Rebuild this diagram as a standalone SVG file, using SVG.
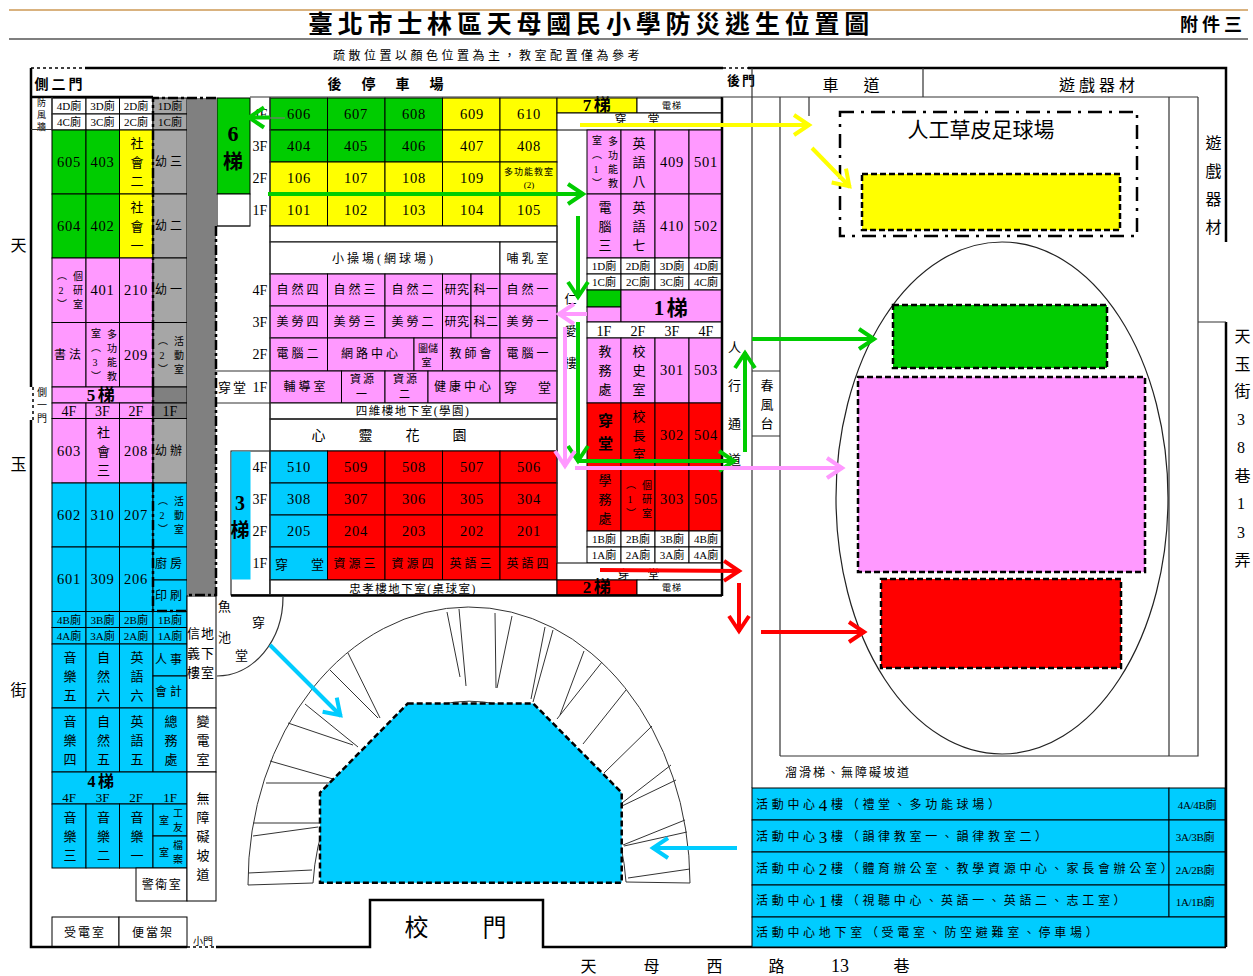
<svg xmlns="http://www.w3.org/2000/svg" width="1253" height="976" viewBox="0 0 1253 976">
<style>
text{font-family:"Liberation Serif","Noto Sans CJK TC",serif;fill:#000;text-anchor:middle;dominant-baseline:central;font-size:12px;letter-spacing:3px}
rect{stroke:#000;stroke-width:1}
.g{fill:#00cc00}.y{fill:#ffff00}.p{fill:#ff99ff}.r{fill:#ff0000}.b{fill:#00ccff}.w{fill:#fff}.a{fill:#a6a6a6}.d{fill:#808080}
text.n{font-size:14.500px;letter-spacing:.8px}
text.h{font-size:11px;letter-spacing:0}
text.f{font-size:14px;letter-spacing:0}
text.u{font-weight:bold;font-size:17px;letter-spacing:2.500px}
text.v{writing-mode:vertical-rl;text-orientation:upright;font-size:13px;letter-spacing:6px;transform:translateY(3px)}
text.vs{writing-mode:vertical-rl;text-orientation:upright;font-size:10px;letter-spacing:4px;transform:translateY(2px)}
text.l{text-anchor:start}
.thick{fill:none;stroke:#000;stroke-width:2.5}
.thin{fill:none;stroke:#333;stroke-width:1.2}
.dd{fill:none;stroke:#000;stroke-width:2.5;stroke-dasharray:10 3 3 3}
.dot{fill:none;stroke:#000;stroke-width:1.5;stroke-dasharray:3 3}
.zone{stroke:#000;stroke-width:2.5;stroke-dasharray:6 3}
.arc{fill:none;stroke:#333;stroke-width:1}
.arw{fill:none;stroke-width:4}
</style>
<defs>
<marker id="mg" markerUnits="userSpaceOnUse" markerWidth="22" markerHeight="26" viewBox="0 0 22 26" refX="19" refY="13" orient="auto"><path d="M3,3 L18,13 L3,23" fill="none" stroke="#00cc00" stroke-width="4"/></marker>
<marker id="my" markerUnits="userSpaceOnUse" markerWidth="22" markerHeight="26" viewBox="0 0 22 26" refX="19" refY="13" orient="auto"><path d="M3,3 L18,13 L3,23" fill="none" stroke="#ffff00" stroke-width="4"/></marker>
<marker id="mp" markerUnits="userSpaceOnUse" markerWidth="22" markerHeight="26" viewBox="0 0 22 26" refX="19" refY="13" orient="auto"><path d="M3,3 L18,13 L3,23" fill="none" stroke="#ff99ff" stroke-width="4"/></marker>
<marker id="mr" markerUnits="userSpaceOnUse" markerWidth="22" markerHeight="26" viewBox="0 0 22 26" refX="19" refY="13" orient="auto"><path d="M3,3 L18,13 L3,23" fill="none" stroke="#ff0000" stroke-width="4"/></marker>
<marker id="mb" markerUnits="userSpaceOnUse" markerWidth="22" markerHeight="26" viewBox="0 0 22 26" refX="19" refY="13" orient="auto"><path d="M3,3 L18,13 L3,23" fill="none" stroke="#00ccff" stroke-width="4"/></marker>
</defs>
<rect x="0" y="0" width="1253" height="976" style="fill:#fff;stroke:none"/>

<g id="header">
<path d="M9,10H1248" style="fill:none;stroke:#cc9955;stroke-width:1.5"/>
<path d="M9,39H1248" style="fill:none;stroke:#555;stroke-width:1.5"/>
<text x="591" y="24" style="font-size:25px;font-weight:bold;letter-spacing:4.800px">臺北市士林區天母國民小學防災逃生位置圖</text>
<text x="1213" y="25" style="font-size:18px;font-weight:bold;letter-spacing:4px">附件三</text>
<text x="488" y="56" style="font-size:12px;letter-spacing:3.500px">疏散位置以顏色位置為主，教室配置僅為參考</text>
</g>

<g id="labels">
<text x="60" y="84" style="font-size:14px;font-weight:bold;letter-spacing:3px">側二門</text>
<text x="336 370 404 438" y="84" style="font-size:14px;font-weight:bold">後停車場</text>
<text x="742" y="80" style="font-size:13px;font-weight:bold;letter-spacing:2px">後門</text>
<text x="832 873" y="85" style="font-size:16px">車道</text>
<text x="1099" y="85" style="font-size:16px;letter-spacing:4px">遊戲器材</text>
<text class="v" x="1212" y="188" style="font-size:16px;letter-spacing:12px">遊戲器材</text>
<text x="20" y="245" style="font-size:16px">天</text><text x="20" y="464" style="font-size:16px">玉</text><text x="20" y="690" style="font-size:16px">街</text>
<text class="v" x="1241" y="451" style="font-size:16px;letter-spacing:11.500px">天玉街38巷13弄</text>
<text x="590 653 716 778" y="966" style="font-size:16px">天母西路</text><text x="840" y="966" style="font-size:18px;letter-spacing:0">13</text><text x="903" y="966" style="font-size:16px">巷</text>
<text x="418 496" y="928" style="font-size:24px">校門</text>
<text x="981" y="130" style="font-size:21px;letter-spacing:0">人工草皮足球場</text>
<text class="v" x="41" y="404" style="font-size:10px;letter-spacing:3px">側一門</text>
<text x="203" y="941" style="font-size:10px;letter-spacing:0">小門</text>
<text x="226 260 226 243" y="606 622 637 655" style="font-size:13px">魚穿池堂</text>
<text x="320 367 414 461" y="435" style="font-size:14px">心靈花園</text>
<text class="v" x="41" y="113" style="font-size:9px;letter-spacing:3px">防風牆</text>
<text x="572" y="300" style="font-size:12px">仁</text><text x="572" y="332" style="font-size:12px">愛</text><text x="572" y="364" style="font-size:12px">樓</text>
<text x="736" y="347" style="font-size:13px">人</text><text x="736" y="385" style="font-size:13px">行</text><text x="736" y="423" style="font-size:13px">通</text><text x="736" y="459" style="font-size:13px">道</text>
<text x="785" y="773" class="l" style="font-size:12px;letter-spacing:2px">溜滑梯、無障礙坡道</text>
</g>

<g id="block-left">
<g id="c4D"><rect class="w" x="52" y="98" width="34" height="16"/><text class="h" x="69" y="106">4D廁</text></g>
<g id="c3D"><rect class="w" x="86" y="98" width="33.5" height="16"/><text class="h" x="102.500" y="106">3D廁</text></g>
<g id="c2D"><rect class="w" x="119.500" y="98" width="33.500" height="16"/><text class="h" x="136" y="106">2D廁</text></g>
<g id="c1D"><rect class="a" x="153" y="98" width="34" height="16"/><text class="h" x="170" y="106">1D廁</text></g>
<g id="c4C"><rect class="w" x="52" y="114" width="34" height="16"/><text class="h" x="69" y="122">4C廁</text></g>
<g id="c3C"><rect class="w" x="86" y="114" width="33.5" height="16"/><text class="h" x="102.500" y="122">3C廁</text></g>
<g id="c2C"><rect class="w" x="119.500" y="114" width="33.500" height="16"/><text class="h" x="136" y="122">2C廁</text></g>
<g id="c1C"><rect class="a" x="153" y="114" width="34" height="16"/><text class="h" x="170" y="122">1C廁</text></g>
<g id="c605"><rect class="g" x="52" y="130" width="34" height="64"/><text class="n" x="69" y="162">605</text></g>
<g id="c403"><rect class="g" x="86" y="130" width="33.500" height="64"/><text class="n" x="102.500" y="162">403</text></g>
<g id="cS2"><rect class="y" x="119.500" y="130" width="33.500" height="64"/><text class="v" x="136" y="162">社會二</text></g>
<g id="cK3"><rect class="a" x="153" y="130" width="34" height="64"/><text x="170" y="162">幼三</text></g>
<g id="c604"><rect class="g" x="52" y="194" width="34" height="64"/><text class="n" x="69" y="226">604</text></g>
<g id="c402"><rect class="g" x="86" y="194" width="33.500" height="64"/><text class="n" x="102.500" y="226">402</text></g>
<g id="cS1"><rect class="y" x="119.500" y="194" width="33.500" height="64"/><text class="v" x="136" y="226">社會一</text></g>
<g id="cK2"><rect class="a" x="153" y="194" width="34" height="64"/><text x="170" y="226">幼二</text></g>
<g id="cR2"><rect class="p" x="52" y="258" width="34" height="64.500"/><text class="vs" x="61" y="290">（2）</text><text class="vs" x="77" y="290">個研室</text></g>
<g id="c401"><rect class="p" x="86" y="258" width="33.500" height="64.500"/><text class="n" x="102.500" y="290">401</text></g>
<g id="c210"><rect class="p" x="119.500" y="258" width="33.500" height="64.500"/><text class="n" x="136" y="290">210</text></g>
<g id="cK1"><rect class="a" x="153" y="258" width="34" height="64.500"/><text x="170" y="290">幼一</text></g>
<g id="cCal"><rect class="p" x="52" y="322.500" width="34" height="64.500"/><text x="69" y="355">書法</text></g>
<g id="cM3"><rect class="p" x="86" y="322.500" width="33.500" height="64.500"/><text class="vs" x="95" y="355">室（3）</text><text class="vs" x="111" y="355">多功能教</text></g>
<g id="c209"><rect class="p" x="119.500" y="322.500" width="33.500" height="64.500"/><text class="n" x="136" y="355">209</text></g>
<g id="cAct2"><rect class="a" x="153" y="322.500" width="34" height="64.500"/><text class="vs" x="162" y="355">（2）</text><text class="vs" x="178" y="355">活動室</text></g>
<g id="s5"><rect class="p" x="52" y="387" width="101" height="16"/><rect class="d" x="153" y="387" width="34" height="16"/><text class="u" x="102" y="395">5梯</text></g>
<g id="r5"><rect class="p" x="52" y="403" width="34" height="15.500"/><text class="f" x="69" y="411">4F</text><rect class="p" x="86" y="403" width="33.500" height="15.500"/><text class="f" x="102.500" y="411">3F</text><rect class="p" x="119.500" y="403" width="33.500" height="15.500"/><text class="f" x="136" y="411">2F</text><rect class="d" x="153" y="403" width="34" height="15.500"/><text class="f" x="170" y="411">1F</text></g>
<g id="c603"><rect class="p" x="52" y="418.500" width="34" height="64.500"/><text class="n" x="69" y="451">603</text></g>
<g id="cS3"><rect class="p" x="86" y="418.500" width="33.500" height="64.500"/><text class="v" x="102.500" y="451">社會三</text></g>
<g id="c208"><rect class="p" x="119.500" y="418.500" width="33.500" height="64.500"/><text class="n" x="136" y="451">208</text></g>
<g id="cKO"><rect class="a" x="153" y="418.500" width="34" height="64.500"/><text x="170" y="451">幼辦</text></g>
<g id="c602"><rect class="b" x="52" y="483" width="34" height="64"/><text class="n" x="69" y="515">602</text></g>
<g id="c310"><rect class="b" x="86" y="483" width="33.500" height="64"/><text class="n" x="102.500" y="515">310</text></g>
<g id="c207"><rect class="b" x="119.500" y="483" width="33.500" height="64"/><text class="n" x="136" y="515">207</text></g>
<g id="cAct1"><rect class="b" x="153" y="483" width="34" height="64"/><text class="vs" x="162" y="515">（2）</text><text class="vs" x="178" y="515">活動室</text></g>
<g id="c601"><rect class="b" x="52" y="547" width="34" height="64.500"/><text class="n" x="69" y="579">601</text></g>
<g id="c309"><rect class="b" x="86" y="547" width="33.500" height="64.500"/><text class="n" x="102.500" y="579">309</text></g>
<g id="c206"><rect class="b" x="119.500" y="547" width="33.500" height="64.500"/><text class="n" x="136" y="579">206</text></g>
<g id="cKit"><rect class="b" x="153" y="547" width="34" height="33"/><text x="170" y="564">廚房</text></g>
<g id="cPrt"><rect class="b" x="153" y="580" width="34" height="31.500"/><text x="170" y="596">印刷</text></g>
<g id="c4B"><rect class="b" x="52" y="611.500" width="34" height="16"/><text class="h" x="69" y="620">4B廁</text></g>
<g id="c3B"><rect class="b" x="86" y="611.500" width="33.500" height="16"/><text class="h" x="102.500" y="620">3B廁</text></g>
<g id="c2B"><rect class="b" x="119.500" y="611.500" width="33.500" height="16"/><text class="h" x="136" y="620">2B廁</text></g>
<g id="c1B"><rect class="b" x="153" y="611.500" width="34" height="16"/><text class="h" x="170" y="620">1B廁</text></g>
<g id="c4A"><rect class="b" x="52" y="627.500" width="34" height="16.500"/><text class="h" x="69" y="636">4A廁</text></g>
<g id="c3A"><rect class="b" x="86" y="627.500" width="33.500" height="16.500"/><text class="h" x="102.500" y="636">3A廁</text></g>
<g id="c2A"><rect class="b" x="119.500" y="627.500" width="33.500" height="16.500"/><text class="h" x="136" y="636">2A廁</text></g>
<g id="c1A"><rect class="b" x="153" y="627.500" width="34" height="16.500"/><text class="h" x="170" y="636">1A廁</text></g>
<g id="cMu5"><rect class="b" x="52" y="644" width="34" height="64"/><text class="v" x="69" y="676">音樂五</text></g>
<g id="cNa6"><rect class="b" x="86" y="644" width="33.500" height="64"/><text class="v" x="102.500" y="676">自然六</text></g>
<g id="cEn6"><rect class="b" x="119.500" y="644" width="33.500" height="64"/><text class="v" x="136" y="676">英語六</text></g>
<g id="cHR"><rect class="b" x="153" y="644" width="34" height="32"/><text x="170" y="660">人事</text></g>
<g id="cAcc"><rect class="b" x="153" y="676" width="34" height="32"/><text x="170" y="692">會計</text></g>
<g id="cMu4"><rect class="b" x="52" y="708" width="34" height="64"/><text class="v" x="69" y="740">音樂四</text></g>
<g id="cNa5"><rect class="b" x="86" y="708" width="33.500" height="64"/><text class="v" x="102.500" y="740">自然五</text></g>
<g id="cEn5"><rect class="b" x="119.500" y="708" width="33.500" height="64"/><text class="v" x="136" y="740">英語五</text></g>
<g id="cGA"><rect class="b" x="153" y="708" width="34" height="64"/><text class="v" x="170" y="740">總務處</text></g>
<g id="s4"><rect class="b" x="52" y="772" width="135" height="32"/><text class="u" x="102" y="781" style="font-size:16px">4梯</text><text class="f" x="69" y="797" style="font-size:13px">4F</text><text class="f" x="102.500" y="797" style="font-size:13px">3F</text><text class="f" x="136" y="797" style="font-size:13px">2F</text><text class="f" x="170" y="797" style="font-size:13px">1F</text></g>
<g id="cMu3"><rect class="b" x="52" y="804" width="34" height="64"/><text class="v" x="69" y="836">音樂三</text></g>
<g id="cMu2"><rect class="b" x="86" y="804" width="33.500" height="64"/><text class="v" x="102.500" y="836">音樂二</text></g>
<g id="cMu1"><rect class="b" x="119.500" y="804" width="33.500" height="64"/><text class="v" x="136" y="836">音樂一</text></g>
<g id="cWk"><rect class="b" x="153" y="804" width="34" height="32"/><text class="vs" x="163" y="820">室</text><text class="vs" x="177" y="820">工友</text></g>
<g id="cAr"><rect class="b" x="153" y="836" width="34" height="32"/><text class="vs" x="163" y="852">室</text><text class="vs" x="177" y="852">檔案</text></g>
<g id="cGd"><rect class="w" x="136" y="868" width="51" height="33"/><text x="162" y="885" style="letter-spacing:1.500px">警衛室</text></g>
<g id="cBF"><rect class="w" x="187" y="596" width="29" height="112"/><text x="195 209" y="633" style="font-size:13px">信地</text><text x="195 209" y="653" style="font-size:13px">義下</text><text x="195 209" y="672" style="font-size:13px">樓室</text></g>
<g id="cPw"><rect class="w" x="187" y="708" width="29" height="64"/><text class="v" x="202" y="740">變電室</text></g>
<g id="cRamp"><rect class="w" x="187" y="772" width="29" height="129"/><text class="v" x="202" y="836">無障礙坡道</text></g>
<g id="cSub"><rect class="w" x="52" y="917" width="67" height="30"/><text x="85" y="933" style="letter-spacing:2px">受電室</text></g>
<g id="cLun"><rect class="w" x="119" y="917" width="68" height="30"/><text x="153" y="933" style="letter-spacing:2px">便當架</text></g>
</g>

<g id="band"><rect class="d" x="187" y="98" width="29" height="497" style="stroke:none"/></g>

<g id="stair6"><rect class="g" x="217" y="98" width="33" height="96"/><text class="u" x="233" y="133" style="font-size:22px;letter-spacing:0">6</text><text class="u" x="233" y="162" style="font-size:20px;letter-spacing:0">梯</text><rect class="w" x="217" y="194" width="33" height="32"/></g>

<g id="block-north">
<g id="c606"><rect class="g" x="270" y="98" width="57.500" height="32"/><text class="n" x="299" y="114">606</text></g>
<g id="c607"><rect class="g" x="327.500" y="98" width="57.500" height="32"/><text class="n" x="356" y="114">607</text></g>
<g id="c608"><rect class="g" x="385" y="98" width="57.500" height="32"/><text class="n" x="414" y="114">608</text></g>
<g id="c609"><rect class="y" x="442.500" y="98" width="57.500" height="32"/><text class="n" x="472" y="114">609</text></g>
<g id="c610"><rect class="y" x="500" y="98" width="57" height="32"/><text class="n" x="529" y="114">610</text></g>
<g id="c404"><rect class="g" x="270" y="130" width="57.500" height="32"/><text class="n" x="299" y="146">404</text></g>
<g id="c405"><rect class="g" x="327.500" y="130" width="57.500" height="32"/><text class="n" x="356" y="146">405</text></g>
<g id="c406"><rect class="g" x="385" y="130" width="57.500" height="32"/><text class="n" x="414" y="146">406</text></g>
<g id="c407"><rect class="y" x="442.500" y="130" width="57.500" height="32"/><text class="n" x="472" y="146">407</text></g>
<g id="c408"><rect class="y" x="500" y="130" width="57" height="32"/><text class="n" x="529" y="146">408</text></g>
<g id="c106"><rect class="y" x="270" y="162" width="57.500" height="32"/><text class="n" x="299" y="178">106</text></g>
<g id="c107"><rect class="y" x="327.500" y="162" width="57.500" height="32"/><text class="n" x="356" y="178">107</text></g>
<g id="c108"><rect class="y" x="385" y="162" width="57.500" height="32"/><text class="n" x="414" y="178">108</text></g>
<g id="c109"><rect class="y" x="442.500" y="162" width="57.500" height="32"/><text class="n" x="472" y="178">109</text></g>
<g id="cM2"><rect class="y" x="500" y="162" width="57" height="32"/><text x="529" y="172" style="font-size:9px;letter-spacing:1px">多功能教室</text><text x="529" y="185" style="font-size:9px;letter-spacing:0">(2)</text></g>
<g id="c101"><rect class="y" x="270" y="194" width="57.500" height="32"/><text class="n" x="299" y="210">101</text></g>
<g id="c102"><rect class="y" x="327.500" y="194" width="57.500" height="32"/><text class="n" x="356" y="210">102</text></g>
<g id="c103"><rect class="y" x="385" y="194" width="57.500" height="32"/><text class="n" x="414" y="210">103</text></g>
<g id="c104"><rect class="y" x="442.500" y="194" width="57.500" height="32"/><text class="n" x="472" y="210">104</text></g>
<g id="c105"><rect class="y" x="500" y="194" width="57" height="32"/><text class="n" x="529" y="210">105</text></g>
<g id="cGap"><rect class="w" x="270" y="226" width="287" height="16"/></g>
<g id="cCourt"><rect class="w" x="270" y="242" width="230" height="32"/><text x="384" y="259">小操場(網球場)</text></g>
<g id="cNurse"><rect class="w" x="500" y="242" width="57" height="32"/><text x="529" y="259">哺乳室</text></g>
<g id="cN4"><rect class="p" x="270" y="274" width="57.500" height="32"/><text x="299" y="290">自然四</text></g>
<g id="cN3"><rect class="p" x="327.500" y="274" width="57.500" height="32"/><text x="356" y="290">自然三</text></g>
<g id="cN2"><rect class="p" x="385" y="274" width="57.500" height="32"/><text x="414" y="290">自然二</text></g>
<g id="cL1"><rect class="p" x="442.500" y="274" width="28.500" height="32"/><text x="457" y="290" style="letter-spacing:.5px">研究</text></g>
<g id="cL1b"><rect class="p" x="471" y="274" width="29" height="32"/><text x="486" y="290" style="letter-spacing:.5px">科一</text></g>
<g id="cN1"><rect class="p" x="500" y="274" width="57" height="32"/><text x="529" y="290">自然一</text></g>
<g id="cA4"><rect class="p" x="270" y="306" width="57.500" height="32"/><text x="299" y="322">美勞四</text></g>
<g id="cA3"><rect class="p" x="327.500" y="306" width="57.500" height="32"/><text x="356" y="322">美勞三</text></g>
<g id="cA2"><rect class="p" x="385" y="306" width="57.500" height="32"/><text x="414" y="322">美勞二</text></g>
<g id="cL2"><rect class="p" x="442.500" y="306" width="28.500" height="32"/><text x="457" y="322" style="letter-spacing:.5px">研究</text></g>
<g id="cL2b"><rect class="p" x="471" y="306" width="29" height="32"/><text x="486" y="322" style="letter-spacing:.5px">科二</text></g>
<g id="cA1"><rect class="p" x="500" y="306" width="57" height="32"/><text x="529" y="322">美勞一</text></g>
<g id="cC2"><rect class="p" x="270" y="338" width="57.500" height="33"/><text x="299" y="354">電腦二</text></g>
<g id="cNet"><rect class="p" x="327.500" y="338" width="86.500" height="33"/><text x="371" y="354">網路中心</text></g>
<g id="cSt"><rect class="p" x="414" y="338" width="28.500" height="33"/><text x="428" y="348" style="font-size:10px;letter-spacing:0">圖儲</text><text x="428" y="362" style="font-size:10px">室</text></g>
<g id="cTe"><rect class="p" x="442.500" y="338" width="57.500" height="33"/><text x="472" y="354">教師會</text></g>
<g id="cC1"><rect class="p" x="500" y="338" width="57" height="33"/><text x="529" y="354">電腦一</text></g>
<g id="cCo"><rect class="p" x="270" y="371" width="71.500" height="32"/><text x="306" y="387">輔導室</text></g>
<g id="cRes1"><rect class="p" x="341.500" y="371" width="43.500" height="32"/><text x="363" y="379" style="font-size:11px;letter-spacing:2px">資源</text><text x="363" y="394" style="font-size:11px">一</text></g>
<g id="cRes2"><rect class="p" x="385" y="371" width="43" height="32"/><text x="406" y="379" style="font-size:11px;letter-spacing:2px">資源</text><text x="406" y="394" style="font-size:11px">二</text></g>
<g id="cHe"><rect class="p" x="428" y="371" width="72" height="32"/><text x="464" y="387">健康中心</text></g>
<g id="cCh1"><rect class="p" x="500" y="371" width="57" height="32"/><text x="512 546" y="387" style="font-size:13px">穿堂</text></g>
<g id="cB4"><rect class="w" x="270" y="403" width="287" height="16"/><text x="413" y="411" style="font-size:11.500px;letter-spacing:1.500px">四維樓地下室(學園)</text></g>
<g id="cGar"><rect class="w" x="270" y="419" width="287" height="32" style="fill:none"/></g>
</g>

<g id="block-south">
<g id="s3"><rect class="w" x="231" y="451" width="39" height="144"/><rect class="b" x="231.500" y="451.500" width="19" height="128" style="stroke:none"/><text class="u" x="240" y="503" style="font-size:20px;letter-spacing:0">3</text><text class="u" x="240" y="530" style="font-size:19px;letter-spacing:0">梯</text></g>
<g id="c510"><rect class="b" x="270" y="451" width="57.500" height="32"/><text class="n" x="299" y="467">510</text></g>
<g id="c509"><rect class="r" x="327.500" y="451" width="57.500" height="32"/><text class="n" x="356" y="467">509</text></g>
<g id="c508"><rect class="r" x="385" y="451" width="57.500" height="32"/><text class="n" x="414" y="467">508</text></g>
<g id="c507"><rect class="r" x="442.500" y="451" width="57.500" height="32"/><text class="n" x="472" y="467">507</text></g>
<g id="c506"><rect class="r" x="500" y="451" width="57" height="32"/><text class="n" x="529" y="467">506</text></g>
<g id="c308"><rect class="b" x="270" y="483" width="57.500" height="32"/><text class="n" x="299" y="499">308</text></g>
<g id="c307"><rect class="r" x="327.500" y="483" width="57.500" height="32"/><text class="n" x="356" y="499">307</text></g>
<g id="c306"><rect class="r" x="385" y="483" width="57.500" height="32"/><text class="n" x="414" y="499">306</text></g>
<g id="c305"><rect class="r" x="442.500" y="483" width="57.500" height="32"/><text class="n" x="472" y="499">305</text></g>
<g id="c304"><rect class="r" x="500" y="483" width="57" height="32"/><text class="n" x="529" y="499">304</text></g>
<g id="c205"><rect class="b" x="270" y="515" width="57.500" height="32"/><text class="n" x="299" y="531">205</text></g>
<g id="c204"><rect class="r" x="327.500" y="515" width="57.500" height="32"/><text class="n" x="356" y="531">204</text></g>
<g id="c203"><rect class="r" x="385" y="515" width="57.500" height="32"/><text class="n" x="414" y="531">203</text></g>
<g id="c202"><rect class="r" x="442.500" y="515" width="57.500" height="32"/><text class="n" x="472" y="531">202</text></g>
<g id="c201"><rect class="r" x="500" y="515" width="57" height="32"/><text class="n" x="529" y="531">201</text></g>
<g id="cCh3"><rect class="b" x="270" y="547" width="57.500" height="33"/><text x="283 319" y="564" style="font-size:13px">穿堂</text></g>
<g id="cRe3"><rect class="r" x="327.500" y="547" width="57.500" height="33"/><text x="356" y="564">資源三</text></g>
<g id="cRe4"><rect class="r" x="385" y="547" width="57.500" height="33"/><text x="414" y="564">資源四</text></g>
<g id="cE3"><rect class="r" x="442.500" y="547" width="57.500" height="33"/><text x="472" y="564">英語三</text></g>
<g id="cE4"><rect class="r" x="500" y="547" width="57" height="33"/><text x="529" y="564">英語四</text></g>
<g id="cB3"><rect class="w" x="270" y="580" width="287" height="15"/><text x="413" y="589" style="font-size:11.500px;letter-spacing:1.500px">忠孝樓地下室(桌球室)</text></g>
</g>

<g id="block-east">
<g id="s7"><rect class="y" x="557" y="98" width="80" height="15"/><text class="u" x="598" y="105">7梯</text><rect class="w" x="637" y="98" width="85" height="15"/><text x="672" y="106" style="font-size:9px;letter-spacing:1px">電梯</text></g>
<g id="cCh7"><rect class="w" x="557" y="113" width="165" height="17"/><text x="622 655" y="120" style="font-size:12px">穿堂</text></g>
<g id="cM1"><rect class="p" x="587" y="130" width="34" height="64"/><text class="vs" x="596" y="162">室（1）</text><text class="vs" x="612" y="162">多功能教</text></g>
<g id="cE8"><rect class="p" x="621" y="130" width="34" height="64"/><text class="v" x="638" y="162">英語八</text></g>
<g id="c409"><rect class="p" x="655" y="130" width="34" height="64"/><text class="n" x="672" y="162">409</text></g>
<g id="c501"><rect class="p" x="689" y="130" width="33" height="64"/><text class="n" x="706" y="162">501</text></g>
<g id="cC3"><rect class="p" x="587" y="194" width="34" height="64"/><text class="v" x="604" y="226">電腦三</text></g>
<g id="cE7"><rect class="p" x="621" y="194" width="34" height="64"/><text class="v" x="638" y="226">英語七</text></g>
<g id="c410"><rect class="p" x="655" y="194" width="34" height="64"/><text class="n" x="672" y="226">410</text></g>
<g id="c502"><rect class="p" x="689" y="194" width="33" height="64"/><text class="n" x="706" y="226">502</text></g>
<g id="e1D"><rect class="w" x="587" y="258" width="34" height="16"/><text class="h" x="604" y="266">1D廁</text></g>
<g id="e2D"><rect class="w" x="621" y="258" width="34" height="16"/><text class="h" x="638" y="266">2D廁</text></g>
<g id="e3D"><rect class="w" x="655" y="258" width="34" height="16"/><text class="h" x="672" y="266">3D廁</text></g>
<g id="e4D"><rect class="w" x="689" y="258" width="33" height="16"/><text class="h" x="706" y="266">4D廁</text></g>
<g id="e1C"><rect class="w" x="587" y="274" width="34" height="16"/><text class="h" x="604" y="282">1C廁</text></g>
<g id="e2C"><rect class="w" x="621" y="274" width="34" height="16"/><text class="h" x="638" y="282">2C廁</text></g>
<g id="e3C"><rect class="w" x="655" y="274" width="34" height="16"/><text class="h" x="672" y="282">3C廁</text></g>
<g id="e4C"><rect class="w" x="689" y="274" width="33" height="16"/><text class="h" x="706" y="282">4C廁</text></g>
<g id="s1"><rect class="g" x="587" y="290" width="34" height="17"/><rect class="p" x="587" y="307" width="34" height="15"/><rect class="p" x="621" y="290" width="101" height="32"/><text class="u" x="672" y="308" style="font-size:21px">1梯</text></g>
<g id="r1"><rect class="w" x="587" y="322" width="135" height="16"/><text class="f" x="604" y="331">1F</text><text class="f" x="638" y="331">2F</text><text class="f" x="672" y="331">3F</text><text class="f" x="706" y="331">4F</text></g>
<g id="cDe"><rect class="p" x="587" y="338" width="34" height="65"/><text class="v" x="604" y="370">教務處</text></g>
<g id="cHi"><rect class="p" x="621" y="338" width="34" height="65"/><text class="v" x="638" y="370">校史室</text></g>
<g id="c301"><rect class="p" x="655" y="338" width="34" height="65"/><text class="n" x="672" y="370">301</text></g>
<g id="c503"><rect class="p" x="689" y="338" width="33" height="65"/><text class="n" x="706" y="370">503</text></g>
<g id="cCh2"><rect class="r" x="587" y="403" width="34" height="64"/><text class="v" x="604" y="433" style="font-size:15px;font-weight:bold;letter-spacing:8px">穿堂</text></g>
<g id="cPr"><rect class="r" x="621" y="403" width="34" height="64"/><text class="v" x="638" y="435">校長室</text></g>
<g id="c302"><rect class="r" x="655" y="403" width="34" height="64"/><text class="n" x="672" y="435">302</text></g>
<g id="c504"><rect class="r" x="689" y="403" width="33" height="64"/><text class="n" x="706" y="435">504</text></g>
<g id="cSa"><rect class="r" x="587" y="467" width="34" height="64"/><text class="v" x="604" y="499">學務處</text></g>
<g id="cR1"><rect class="r" x="621" y="467" width="34" height="64"/><text class="vs" x="630" y="499">（1）</text><text class="vs" x="646" y="499">個研室</text></g>
<g id="c303"><rect class="r" x="655" y="467" width="34" height="64"/><text class="n" x="672" y="499">303</text></g>
<g id="c505"><rect class="r" x="689" y="467" width="33" height="64"/><text class="n" x="706" y="499">505</text></g>
<g id="e1B"><rect class="w" x="587" y="531" width="34" height="16"/><text class="h" x="604" y="539">1B廁</text></g>
<g id="e2B"><rect class="w" x="621" y="531" width="34" height="16"/><text class="h" x="638" y="539">2B廁</text></g>
<g id="e3B"><rect class="w" x="655" y="531" width="34" height="16"/><text class="h" x="672" y="539">3B廁</text></g>
<g id="e4B"><rect class="w" x="689" y="531" width="33" height="16"/><text class="h" x="706" y="539">4B廁</text></g>
<g id="e1A"><rect class="w" x="587" y="547" width="34" height="16"/><text class="h" x="604" y="555">1A廁</text></g>
<g id="e2A"><rect class="w" x="621" y="547" width="34" height="16"/><text class="h" x="638" y="555">2A廁</text></g>
<g id="e3A"><rect class="w" x="655" y="547" width="34" height="16"/><text class="h" x="672" y="555">3A廁</text></g>
<g id="e4A"><rect class="w" x="689" y="547" width="33" height="16"/><text class="h" x="706" y="555">4A廁</text></g>
<g id="cCh8"><rect class="w" x="557" y="563" width="165" height="17"/><text x="625 655" y="575" style="font-size:12px">穿堂</text></g>
<g id="s2"><rect class="r" x="557" y="580" width="80" height="15"/><text class="u" x="598" y="587">2梯</text><rect class="w" x="637" y="580" width="85" height="15"/><text x="672" y="588" style="font-size:9px;letter-spacing:1px">電梯</text></g>
</g>

<g id="floor-labels">
<text class="f" x="260" y="114">4F</text><text class="f" x="260" y="146">3F</text><text class="f" x="260" y="178">2F</text><text class="f" x="260" y="210">1F</text>
<text class="f" x="260" y="290">4F</text><text class="f" x="260" y="322">3F</text><text class="f" x="260" y="354">2F</text><text class="f" x="260" y="387">1F</text>
<text x="233" y="387" style="font-size:13px;letter-spacing:2px">穿堂</text>
<text class="f" x="260" y="467">4F</text><text class="f" x="260" y="499">3F</text><text class="f" x="260" y="531">2F</text><text class="f" x="260" y="563">1F</text>
</g>

<g id="frame">
<path class="thick" d="M31,387V68"/><path class="dot" d="M31,68H85"/><path class="thick" d="M85,68H723"/><path class="dot" d="M723,68H748"/><path class="thick" d="M748,68H1226V242M1226,322V947"/>
<path class="dot" d="M33,387V420" /><path class="thick" d="M31,420V947H187"/><path class="dot" d="M187,947H216"/><path class="thick" d="M216,947H370V900H543V947H1226"/>
<path class="thick" d="M31,97H153"/><path class="thin" d="M250,97H722"/><path class="thin" d="M31,129.500H52M52,97V130"/>
<path class="thick" d="M722,97V596M231,595.500H722"/>
<path class="thin" d="M216,371H270M216,403H270M270,97V595M557,226V563M217,226H250"/>
<path class="thin" d="M923,68V97M722,97H1198M809,97V116M752,68V788M780,97V756M1169,97V756M1198,97V756H780M1198,322H1226M752,371H780M752,436H780"/>
<path class="dd" d="M153,387V98H216"/><path class="dd" d="M153,387V611H187"/><path class="dd" d="M216,226V595H187"/>
</g>

<g id="spring-stage"><text class="v" x="766" y="404">春風台</text></g>

<g id="amphitheatre">
<path class="arc" d="M248,885A221,277 0 0 1 690,883L626,882A157,197 0 0 0 313,883Z"/>
<path class="arc" d="M447,612L460,677M459,609L466,686M495,613L496,688M512,616L497,688M545,627L531,699M553,630L533,702M584,651L560,715M602,662L557,719M626,690L583,744M652,726L604,773M671,765L622,803M676,780L622,806M685,820L623,845M687,832L624,846M690,869L628,878M348,653L380,718M330,670L378,718M305,704L358,747M288,723L353,745M270,761L333,779M266,783L330,783M253,823L320,823M253,836L318,827M248,873L312,870"/>
</g>

<g id="pool">
<path d="M407.700,703.500H533.300L621.700,792.700V882.700H320V792.700Z" class="b zone"/>
<path d="M283,597A66,79 0 0 1 217,676" class="arc" style="stroke-width:1.200"/>
</g>

<g id="field">
<ellipse cx="1002" cy="498" rx="166" ry="256" style="fill:none;stroke:#222;stroke-width:1.200"/>
<rect x="840" y="112" width="297" height="124" style="fill:none;stroke-width:2.500;stroke-dasharray:14 7 3 7"/>
<rect id="zone-yellow" class="y zone" x="862" y="174" width="258" height="56"/>
<rect id="zone-green" class="g zone" x="893" y="305" width="214" height="63"/>
<rect id="zone-pink" class="p zone" x="858" y="377" width="287" height="195"/>
<rect id="zone-red" class="r zone" x="881" y="579" width="240" height="89"/>
</g>

<g id="activity-table">
<g id="t4"><rect class="b" x="752" y="788" width="417" height="32"/><text class="l" x="756" y="805" style="letter-spacing:3.700px">活動中心<tspan style="font-size:17px">4</tspan>樓（禮堂、多功能球場）</text><rect class="b" x="1169" y="788" width="56" height="32"/><text class="h" x="1197" y="805" style="letter-spacing:-.3px">4A/4B廁</text></g>
<g id="t3"><rect class="b" x="752" y="820" width="417" height="32"/><text class="l" x="756" y="837" style="letter-spacing:3.700px">活動中心<tspan style="font-size:17px">3</tspan>樓（韻律教室一、韻律教室二）</text><rect class="b" x="1169" y="820" width="56" height="32"/><text class="h" x="1195" y="837" style="letter-spacing:-.3px">3A/3B廁</text></g>
<g id="t2"><rect class="b" x="752" y="852" width="417" height="33"/><text class="l" x="756" y="869" style="letter-spacing:3.700px">活動中心<tspan style="font-size:17px">2</tspan>樓（體育辦公室、教學資源中心、家長會辦公室）</text><rect class="b" x="1169" y="852" width="56" height="33"/><text class="h" x="1195" y="870" style="letter-spacing:-.3px">2A/2B廁</text></g>
<g id="t1"><rect class="b" x="752" y="885" width="417" height="32"/><text class="l" x="756" y="901" style="letter-spacing:3.700px">活動中心<tspan style="font-size:17px">1</tspan>樓（視聽中心、英語一、英語二、志工室）</text><rect class="b" x="1169" y="885" width="56" height="32"/><text class="h" x="1195" y="902" style="letter-spacing:-.3px">1A/1B廁</text></g>
<g id="t0"><rect class="b" x="752" y="917" width="473" height="30"/><text class="l" x="756" y="933" style="letter-spacing:3.700px">活動中心地下室（受電室、防空避難室、停車場）</text></g>
</g>

<g id="connectors">
<path class="arw" d="M270,117.500H248" stroke="#00cc00" marker-end="url(#mg)"/>
<path d="M270,118H285" style="fill:none;stroke:#777;stroke-width:1.200"/>
<path class="arw" d="M268,194H584" stroke="#00cc00" marker-end="url(#mg)"/>
<path class="arw" d="M578,216V298" stroke="#00cc00" marker-end="url(#mg)"/>
<path class="arw" d="M578,322V462" stroke="#00cc00" marker-end="url(#mg)"/>
<path class="arw" d="M578,461H735" stroke="#00cc00" marker-end="url(#mg)"/>
<path class="arw" d="M745,452V352" stroke="#00cc00" marker-end="url(#mg)"/>
<path class="arw" d="M752,339H875" stroke="#00cc00" marker-end="url(#mg)"/>
<path class="arw" d="M580,125H810" stroke="#ffff00" marker-end="url(#my)"/>
<path class="arw" d="M812,148L850,187" stroke="#ffff00" marker-end="url(#my)"/>
<path class="arw" d="M587,314H558" stroke="#ff99ff" marker-end="url(#mp)"/>
<path class="arw" d="M565,327V467" stroke="#ff99ff" marker-end="url(#mp)"/>
<path class="arw" d="M575,468H843" stroke="#ff99ff" marker-end="url(#mp)"/>
<path class="arw" d="M600,570L740,571" stroke="#ff0000" marker-end="url(#mr)"/>
<path class="arw" d="M739,583V632" stroke="#ff0000" marker-end="url(#mr)"/>
<path class="arw" d="M761,632H865" stroke="#ff0000" marker-end="url(#mr)"/>
<path class="arw" d="M270,645L341,716" stroke="#00ccff" marker-end="url(#mb)"/>
<path class="arw" d="M737,848H652" stroke="#00ccff" marker-end="url(#mb)"/>
</g>
</svg>
